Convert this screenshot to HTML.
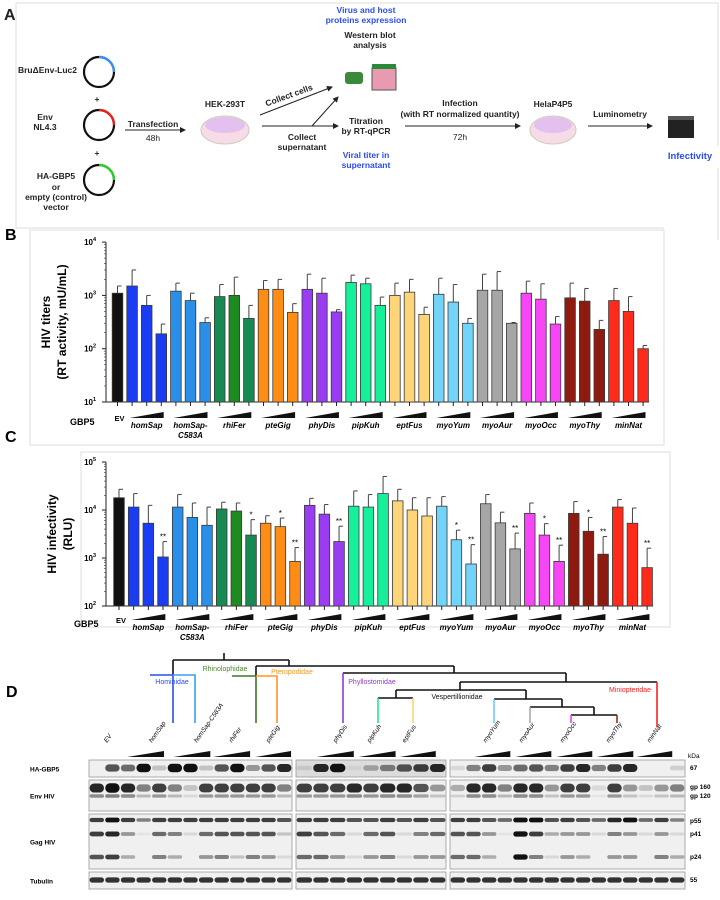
<!DOCTYPE html>
<html><head><meta charset="utf-8"><style>
html,body{margin:0;padding:0;background:#fff;}
svg{display:block;font-family:"Liberation Sans",Arial,sans-serif;}
</style></head><body>
<svg id="fig" width="720" height="900" viewBox="0 0 720 900" xmlns="http://www.w3.org/2000/svg">
<defs><marker id="ar" markerWidth="6" markerHeight="6" refX="5" refY="3" orient="auto"><path d="M0,0 L6,3 L0,6z" fill="#222"/></marker></defs>
<g font-size="8.5" font-weight="bold" fill="#222">
<path d="M16,3 H718 V146 M718,168 V240 M16,3 V228 H664" fill="none" stroke="#ddd" stroke-width="1"/>
<text x="4" y="20" font-size="16">A</text>
<text x="77" y="73" text-anchor="end">BruΔEnv-Luc2</text>
<circle cx="99" cy="72" r="15" fill="none" stroke="#111" stroke-width="2.2"/><path d="M99,57 A15,15 0 0 1 114,72" fill="none" stroke="#3a8ff0" stroke-width="2.4"/>
<text x="97" y="102" text-anchor="middle">+</text>
<text x="45" y="120" text-anchor="middle">Env</text><text x="45" y="130" text-anchor="middle">NL4.3</text>
<circle cx="99" cy="125" r="15" fill="none" stroke="#111" stroke-width="2.2"/><path d="M99,110 A15,15 0 0 1 114,125" fill="none" stroke="#e82020" stroke-width="2.4"/>
<text x="97" y="156" text-anchor="middle">+</text>
<text x="56" y="179" text-anchor="middle">HA-GBP5</text><text x="56" y="190" text-anchor="middle">or</text><text x="56" y="200" text-anchor="middle">empty (control)</text><text x="56" y="210" text-anchor="middle">vector</text>
<circle cx="99" cy="180" r="15" fill="none" stroke="#111" stroke-width="2.2"/><path d="M99,165 A15,15 0 0 1 114,180" fill="none" stroke="#2ad02a" stroke-width="2.4"/>
<text x="153" y="127" text-anchor="middle">Transfection</text><line x1="125" y1="130" x2="185" y2="130" stroke="#222" marker-end="url(#ar)"/><text x="153" y="141" text-anchor="middle" font-weight="normal">48h</text>
<text x="225" y="107" text-anchor="middle">HEK-293T</text>
<ellipse cx="225" cy="130" rx="24" ry="14" fill="#f7dbe6" stroke="#ccb"/><ellipse cx="225" cy="125" rx="20" ry="8" fill="#e3c0ee"/>
<line x1="260" y1="115" x2="332" y2="87" stroke="#222" marker-end="url(#ar)"/>
<text x="290" y="98" text-anchor="middle" transform="rotate(-20 290 98)">Collect cells</text>
<line x1="262" y1="126" x2="338" y2="126" stroke="#222" marker-end="url(#ar)"/>
<line x1="312" y1="126" x2="338" y2="97" stroke="#222" marker-end="url(#ar)"/>
<text x="302" y="140" text-anchor="middle">Collect</text><text x="302" y="150" text-anchor="middle">supernatant</text>
<text x="366" y="13" text-anchor="middle" fill="#2a4cf0">Virus and host</text><text x="366" y="23" text-anchor="middle" fill="#2a4cf0">proteins expression</text>
<text x="370" y="38" text-anchor="middle">Western blot</text><text x="370" y="48" text-anchor="middle">analysis</text>
<rect x="345" y="72" width="18" height="12" fill="#3a8a3a" rx="3"/><rect x="372" y="68" width="24" height="22" fill="#e79ab0" stroke="#555"/><rect x="372" y="64" width="24" height="5" fill="#2a8a3a"/>
<text x="366" y="124" text-anchor="middle">Titration</text><text x="366" y="134" text-anchor="middle">by RT-qPCR</text>
<text x="366" y="158" text-anchor="middle" fill="#2a4cf0">Viral titer in</text><text x="366" y="168" text-anchor="middle" fill="#2a4cf0">supernatant</text>
<text x="460" y="106" text-anchor="middle">Infection</text><text x="460" y="117" text-anchor="middle">(with RT normalized quantity)</text>
<line x1="405" y1="126" x2="520" y2="126" stroke="#222" marker-end="url(#ar)"/><text x="460" y="140" text-anchor="middle" font-weight="normal">72h</text>
<text x="553" y="107" text-anchor="middle">HelaP4P5</text>
<ellipse cx="553" cy="130" rx="23" ry="14" fill="#f7dbe6" stroke="#ccb"/><ellipse cx="553" cy="125" rx="19" ry="8" fill="#e3c0ee"/>
<text x="620" y="117" text-anchor="middle">Luminometry</text><line x1="588" y1="126" x2="652" y2="126" stroke="#222" marker-end="url(#ar)"/>
<rect x="668" y="118" width="26" height="20" fill="#222"/><rect x="668" y="116" width="26" height="4" fill="#555"/>
<text x="690" y="159" text-anchor="middle" fill="#2a4cf0" font-size="9.5">Infectivity</text>
</g>
<g id="bc"></g>
<g id="pd"></g>
</svg>
<script>
const groups=["homSap","homSap-C583A","rhiFer","pteGig","phyDis","pipKuh","eptFus","myoYum","myoAur","myoOcc","myoThy","minNat"];
const colors=["#111111","#1a3cf2","#1a3cf2","#1a3cf2","#2a8fe8","#2a8fe8","#2a8fe8","#178a52","#1e8a22","#178a52","#ff8c14","#ff8c14","#ff8c14","#9a3cf2","#9a3cf2","#9a3cf2","#16f09a","#16f09a","#16f09a","#ffd57a","#ffd57a","#ffd57a","#72d4f8","#72d4f8","#72d4f8","#a6a6a6","#a6a6a6","#a6a6a6","#f646f6","#f646f6","#f646f6","#8e1a10","#8e1a10","#8e1a10","#ff2a1a","#ff2a1a","#ff2a1a"];
const titerValues=[1100,1500,650,190,1200,800,310,950,1000,370,1300,1300,480,1300,1100,490,1750,1650,650,1000,1150,440,1050,750,300,1250,1250,300,1100,850,290,900,780,230,800,500,100];
const titerErrTop=[1500,3000,1000,290,1700,1100,380,1600,2200,650,1900,2000,700,2500,2100,540,2400,2100,930,1700,2000,600,2100,1600,370,2500,2800,310,1850,1650,400,1700,1350,340,1350,950,115];
const infValues=[18000,11500,5300,1050,11500,7000,4800,10500,9500,3000,5300,4500,850,12500,8200,2200,12000,11500,22000,15500,10000,7500,12000,2400,750,13500,5400,1550,8500,3000,850,8500,3600,1200,11500,5300,630];
const infErrTop=[27000,22000,12500,2200,21000,14000,11500,14500,14000,6300,7600,6800,1650,17500,13000,4600,25000,21000,50000,27000,18000,18000,19000,3800,1900,21000,9000,3300,14000,5200,1850,15000,7000,2800,16500,11000,1600];
const infStars=["","","","**","","","","","","*","","*","**","","","**","","","","","","","","*","**","","","**","","*","**","","*","**","","","**"];
const titerExp=[1,2,3,4];
const infExp=[2,3,4,5];

const NS="http://www.w3.org/2000/svg";
function mk(tag,attrs,parent){const e=document.createElementNS(NS,tag);for(const k in attrs)e.setAttribute(k,attrs[k]);parent.appendChild(e);return e;}
const bc=document.getElementById('bc');

function chart(opt){
  const g=mk('g',{},bc);
  
  
  mk('rect',{x:opt.box[0],y:opt.box[1],width:opt.box[2],height:opt.box[3],fill:'none',stroke:'#ddd'},g);
  const lab=mk('text',{x:opt.labPos[0],y:opt.labPos[1],'font-size':16,'font-weight':'bold'},g);lab.textContent=opt.letter;
  
  
  const ax=106;
  const yMin=opt.exps[0],yMax=opt.exps[opt.exps.length-1];
  const y=v=>opt.y0-(Math.log10(v)-yMin)*opt.dec;
  const x=i=>opt.x0+i*opt.sp;
  const yTop=opt.y0-(yMax-yMin)*opt.dec;
  const axis=mk('line',{x1:ax,y1:yTop,x2:ax,y2:opt.y0,stroke:'#222','stroke-width':1},g);
  
  
  mk('line',{x1:ax,y1:opt.y0,x2:x(opt.vals.length-1)+6,y2:opt.y0,stroke:'#222'},g);
  opt.exps.forEach(e=>{
    const yy=opt.y0-(e-yMin)*opt.dec;
    mk('line',{x1:ax-4,y1:yy,x2:ax,y2:yy,stroke:'#222'},g);
    const t=mk('text',{x:ax-13,y:yy+3,'font-size':8,'font-weight':'bold','text-anchor':'end'},g);
    t.textContent='10';
    
    
    const s=mk('text',{x:ax-13,y:yy-1,'font-size':5.5,'font-weight':'bold'},g);s.textContent=String(e);
    if(e<yMax){for(let m=2;m<10;m++){const ym=y(m*Math.pow(10,e));mk('line',{x1:ax-2,y1:ym,x2:ax,y2:ym,stroke:'#333','stroke-width':0.6},g);}}
  });
  const tt=mk('text',{x:0,y:0,'font-size':12,'font-weight':'bold','text-anchor':'middle',transform:`translate(${opt.titleX[0]},${opt.titleY}) rotate(-90)`},g);
  tt.textContent=opt.title[0];
  
  
  const tt2=mk('text',{x:0,y:0,'font-size':12,'font-weight':'bold','text-anchor':'middle',transform:`translate(${opt.titleX[1]},${opt.titleY}) rotate(-90)`},g);
  tt2.textContent=opt.title[1];
  opt.vals.forEach((v,i)=>{
    const cx=x(i),top=y(v),et=y(opt.err[i]);
    mk('line',{x1:cx,y1:top,x2:cx,y2:et,stroke:'#444','stroke-width':1},g);
    mk('line',{x1:cx,y1:et,x2:cx+4,y2:et,stroke:'#444','stroke-width':1},g);
    const r=mk('rect',{x:cx-5.3,y:top,width:10.6,height:opt.y0-top,fill:colors[i],stroke:'#3a3a3a','stroke-width':0.8},g);
    
    
    mk('line',{x1:cx,y1:opt.y0,x2:cx,y2:opt.y0+4,stroke:'#222'},g);
    if(opt.stars&&opt.stars[i]){const s=mk('text',{x:cx,y:et-2,'font-size':8,'text-anchor':'middle'},g);s.textContent=opt.stars[i];
      
      }
  });
  const gl=mk('text',{x:opt.gbpX,y:opt.lblY,'font-size':9,'font-weight':'bold'},g);gl.textContent='GBP5';
  
  
  const ev=mk('text',{x:x(0)-3,y:opt.lblY-4,'font-size':7.5,'font-weight':'bold'},g);ev.textContent='EV';
  groups.forEach((n,k)=>{
    const c=x(k*3+2);
    const w=mk('path',{d:`M${c-17},${opt.wedgeY+6} L${c+17},${opt.wedgeY} L${c+17},${opt.wedgeY+6}z`,fill:'#111'},g);
    
    
    const parts=n==='homSap-C583A'?['homSap-','C583A']:[n];
    parts.forEach((p,j)=>{const t=mk('text',{x:c,y:opt.lblY+3+j*10,'font-size':8,'font-weight':'bold','font-style':'italic','text-anchor':'middle'},g);t.textContent=p;
      
      });
  });
}
chart({name:'chart-hiv-titers',letter:'B',labPos:[5,240],box:[30,230,634,215],vals:titerValues,err:titerErrTop,exps:titerExp,y0:402,dec:53.3,x0:117.5,sp:14.6,title:['HIV titers','(RT activity, mU/mL)'],titleX:[50,66],titleY:322,gbpX:70,lblY:425,wedgeY:412});
chart({name:'chart-hiv-infectivity',letter:'C',labPos:[5,442],box:[81,452,589,175],vals:infValues,err:infErrTop,stars:infStars,exps:infExp,y0:606,dec:48,x0:119,sp:14.67,title:['HIV infectivity','(RLU)'],titleX:[56,72],titleY:534,gbpX:74,lblY:627,wedgeY:614});

const pd=document.getElementById('pd');
const dl=mk('text',{x:6,y:697,'font-size':16,'font-weight':'bold'},pd);dl.textContent='D';
const treeSegs=[["M224,653V660M173,660H289M173,660V675M289,660V666M256,666H454M256,666V676M454,666V673M343,673H566M566,673V682M460,682H657M460,682V690M396,690H526M396,690V698M378,698H413M526,690V699M494,699H562M562,699V707M530,707H594M594,707V715M571,715H617","#111"],
["M150,675H173V723","#2a4cf0"],["M173,675H195V723","#3a9ff0"],["M232,676H256V723","#3a7a20"],["M256,676H277V723","#ff9620"],["M343,673V723","#8a3cd0"],["M378,698V723","#22e890"],["M413,698V723","#ffd27a"],["M494,699V723","#6ccff5"],["M530,707V723","#aaa"],["M571,715V723","#f040f0"],["M617,715V723","#a02a1a"],["M657,682V727","#ff2020"]];
treeSegs.forEach(s=>{const p=mk('path',{d:s[0],stroke:s[1],'stroke-width':1.6,fill:'none'},pd);
  
  });
[["Hominidae",172,684,"#2a4cf0"],["Rhinolophidae",225,671,"#4a8a2a"],["Pteropodidae",292,674,"#ff9620"],["Phyllostomidae",372,684,"#8a3cd0"],["Vespertillionidae",457,699,"#111"],["Miniopteridae",630,692,"#ff2020"]].forEach(f=>{
  const t=mk('text',{x:f[1],y:f[2],'font-size':7,fill:f[3],'text-anchor':'middle'},pd);t.textContent=f[0];
  
  });
[["EV",115],["homSap",160],["homSap-C583A",205],["rhiFer",240],["pteGig",277],["phyDis",344],["pipKuh",378],["eptFus",413],["myoYum",494],["myoAur",530],["myoOcc",571],["myoThy",617],["minNat",658]].forEach(l=>{
  const t=mk('text',{x:0,y:0,'font-size':6.5,'font-style':'italic','text-anchor':'start',transform:`translate(${l[1]-8},${743}) rotate(-55)`},pd);t.textContent=l[0];
  
  });
[[115,205],[228,318],[325,415],[428,515],[578,668],[680,770],[780,868],[962,1050],[1062,1150],[1162,1250],[1260,1350],[1357,1445]].forEach(w=>{
  const a=80+w[0]/2.44,b=80+w[1]/2.44;
  const p=mk('path',{d:`M${a},757 L${b},751 L${b},757z`,fill:'#111'},pd);
  
  });
const kd=mk('text',{x:688,y:758,'font-size':6.5},pd);kd.textContent='kDa';
const panelsX=[[89,292,13],[296,446,9],[450,685,15]];
const rows=[["HA-GBP5",760,777],["Env HIV",780,811],["Gag HIV",814,869],["Tubulin",872,889]];
const gbp5Bands=[[0,.7,.6,1,.2,1,1,.2,.7,1,.4,.7,.9],[.1,.9,1,.05,.3,.5,.7,.8,.9],[.1,.5,.8,.4,.6,.7,.5,.8,.9,.5,.8,.9,0,0,.15]];
const envBands=[[.9,1,.9,.5,.8,.5,.2,.8,.8,.8,.8,.8,.5],[.8,.8,.8,.9,.8,.9,.9,.7,.4],[.3,.9,.9,.5,.9,.9,.4,.8,.8,.1,.8,.4,.2,.4,.5]];
const p55Bands=[[.8,1,.8,.5,.8,.8,.8,.8,.8,.8,.8,.8,.7],[.8,.8,.8,.7,.7,.8,.7,.8,.7],[.8,.8,.7,.6,1,1,.7,.8,.7,.6,.9,1,.6,.8,.5]];
const p41Bands=[[.8,.9,.4,.05,.6,.5,.1,.6,.7,.7,.7,.7,.2],[.8,.7,.6,.1,.6,.7,.1,.5,.6],[.7,.7,.4,.05,1,.8,.3,.4,.4,.1,.5,.4,.1,.4,.1]];
const p24Bands=[[.7,.8,.3,0,.5,.3,0,.4,.5,.2,.5,.4,.1],[.6,.6,.4,.1,.4,.5,.1,.4,.4],[.6,.6,.3,0,1,.5,.1,.4,.3,0,.4,.4,0,.5,.3]];
const tubBands=[Array(13).fill(.85),Array(9).fill(.85),Array(15).fill(.85)];
const bandSpec=[[gbp5Bands,768,3.5],[envBands,788,4],[envBands,796,2],[p55Bands,820,2],[p41Bands,834,2.2],[p24Bands,857,2.2],[tubBands,880,2.4]];
rows.forEach(r=>{
  panelsX.forEach((p,pi)=>{
    const box=mk('rect',{x:p[0],y:r[1],width:p[1]-p[0],height:r[2]-r[1],fill:(r[0]==='HA-GBP5'&&pi===1)?'#dcdcdc':'#f0f0f0',stroke:'#999','stroke-width':0.8},pd);
    
    
  });
  const t=mk('text',{x:30,y:(r[1]+r[2])/2+3,'font-size':6.5,'font-weight':'bold'},pd);t.textContent=r[0];
  
  
});
bandSpec.forEach((b,bi)=>{
  panelsX.forEach((p,pi)=>{
    const lw=(p[1]-p[0])/p[2];
    b[0][pi].forEach((v,li)=>{
      if(v<=0)return;
      const k=bi===2?v*0.5:v;
      const h=b[2]*(0.6+0.6*k);
      const e=mk('rect',{x:p[0]+lw*li+0.6,y:b[1]-h,width:lw-1.2,height:2*h,rx:h,fill:'#111','fill-opacity':Math.min(1,k)},pd);
      
      
    });
  });
});
[["67",770],["gp 160",789],["gp 120",798],["p55",823],["p41",836],["p24",859],["55",882]].forEach(m=>{
  const t=mk('text',{x:690,y:m[1],'font-size':6.5,'font-weight':'bold'},pd);t.textContent=m[0];
  
  });
</script>
</body></html>
